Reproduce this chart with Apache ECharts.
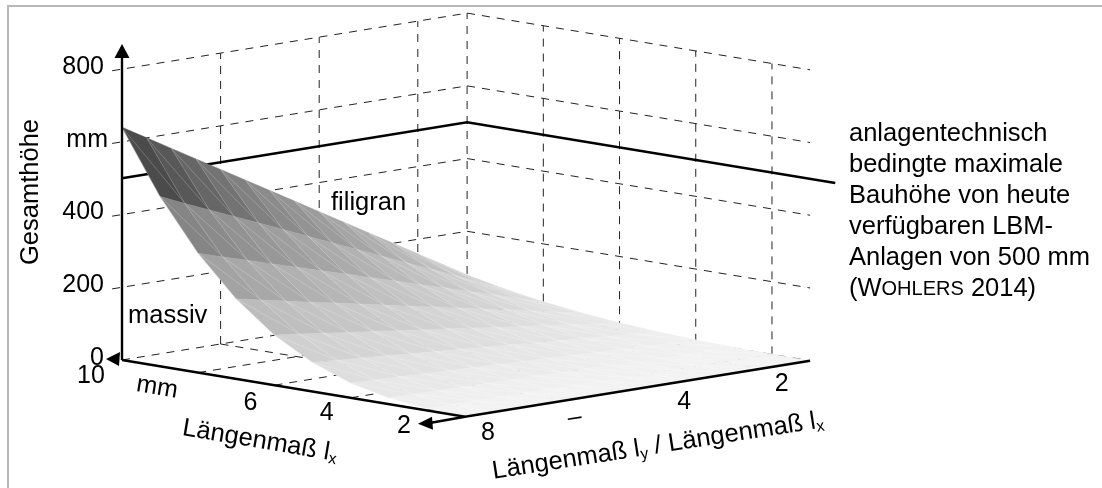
<!DOCTYPE html>
<html>
<head>
<meta charset="utf-8">
<style>html,body{margin:0;padding:0;background:#fff}#c{width:1102px;height:488px}</style>
<script src="https://cdn.jsdelivr.net/npm/echarts@6/dist/echarts.min.js"></script>
</head>
<body>
<div id="c"></div>
<script>
// ---- data ----
const lengthLx = [10, 9, 8, 7, 6, 5, 4, 3, 2, 1];
const ratioR = [1, 1.5, 2, 2.5, 3, 3.5, 4, 4.5, 5, 5.5, 6, 6.5, 7, 7.5, 8];
const heightLx10 = [80,120,160,200,240,280,320,360,400,440,480,520,560,600,640];
const heightLx9  = [58,87,117,146,175,204,233,262,292,321,350,379,408,437,467];
const heightLx8  = [41,61,82,102,123,143,164,184,205,225,246,266,287,307,328];
const heightLx7  = [27,41,55,69,82,96,110,123,137,151,165,178,192,206,220];
const heightLx6  = [17,26,35,43,52,60,69,78,86,95,104,112,121,130,138];
const heightLx5  = [10,15,20,25,30,35,40,45,50,55,60,65,70,75,80];
const heightLx4  = [5,8,10,13,15,18,20,23,26,28,31,33,36,38,41];
const heightLx3  = [2,3,4,5,6,8,9,10,11,12,13,14,15,16,17];
const heightLx2  = [1,1,1,2,2,2,3,3,3,4,4,4,4,5,5];
const heightLx1  = [0,0,0,0,0,0,0,0,0,0,0,0,1,1,1];
const heights = [heightLx10,heightLx9,heightLx8,heightLx7,heightLx6,heightLx5,heightLx4,heightLx3,heightLx2,heightLx1];

const zTicks = [800, 600, 400, 200, 0];
const zTickText = ['800', 'mm', '400', '200', '0'];
const lxTicks = [10, 8, 6, 4, 2];
const lxTickText = ['10', 'mm', '6', '4', '2'];
const rTicks = [8, 6, 4, 2];
const rTickText = ['8', '–', '4', '2'];
const buildLimit = 500;
const noteLines = ['anlagentechnisch', 'bedingte maximale', 'Bauhöhe von heute', 'verfügbaren LBM-', 'Anlagen von 500 mm'];

// ---- oblique view of the three data axes onto a plain pixel cartesian ----
function project(lx, r, z) {
  return [122 + (10 - lx) * 38.11 + (8 - r) * 49.3,
          360 + (10 - lx) * 6.3 - (8 - r) * 8.0 - z * 0.3636];
}
const FONT = '"Liberation Sans", Arial, sans-serif';
const FS = 25;
const FS_T = 25.5;
const grayStops = [[0,243],[41,231],[80,222],[138,208],[220,188],[328,163],[467,133],[640,75]];
function grayOf(h) {
  for (let k = 1; k < grayStops.length; k++) {
    if (h <= grayStops[k][0]) {
      const a = grayStops[k-1], b = grayStops[k];
      const g = Math.round(a[1] + (b[1]-a[1]) * (h-a[0])/(b[0]-a[0]));
      return 'rgb(' + g + ',' + g + ',' + g + ')';
    }
  }
  return 'rgb(75,75,75)';
}

const cells = [];
for (let i = 0; i < lengthLx.length - 1; i++)
  for (let j = 0; j < ratioR.length - 1; j++) cells.push([i, j]);

function vtx(i, j) { return project(lengthLx[i], ratioR[j], heights[i][j]); }

function renderCell(params, api) {
  const c = cells[params.dataIndex], i = c[0], j = c[1];
  const pts = [vtx(i,j), vtx(i,j+1), vtx(i+1,j+1), vtx(i+1,j)].map(p => api.coord(p));
  const col = grayOf(heights[i][j+1]);
  return {type:'polygon', shape:{points:pts}, style:{fill:col, stroke:col, lineWidth:0.5}};
}
function renderSeam(params, api) {
  const c = cells[params.dataIndex], i = c[0], j = c[1];
  const a = api.coord(vtx(i,j+1)), b = api.coord(vtx(i+1,j+1)), d = api.coord(vtx(i+1,j));
  const st = {stroke:'rgba(255,255,255,0.3)', lineWidth:0.7, fill:null};
  const children = [{type:'polyline', shape:{points:[a,d]}, style:st}];
  if (j > 0) children.push({type:'polyline', shape:{points:[a,b]}, style:st});
  return {type:'group', children};
}

// dashed box grid
const gridSegs = [];
zTicks.forEach(z => {
  if (z > 0) gridSegs.push([[10,8.2,z],[10,1,z]]);
  gridSegs.push([[10,1,z],[1,1,z]]);
  if (z === 0) gridSegs.push([[10,8,z],[10,1,z]]);
});
rTicks.slice(1).forEach(r => { gridSegs.push([[10,r,0],[10,r,800]]); gridSegs.push([[10,r,0],[1,r,0]]); });
gridSegs.push([[10,1,0],[10,1,800]]);
lxTicks.slice(1).forEach(lx => { gridSegs.push([[lx,1,0],[lx,1,800]]); gridSegs.push([[lx,8,0],[lx,1,0]]); });

function renderGrid(params, api) {
  const s = gridSegs[params.dataIndex];
  return {type:'line',
    shape:(function(){const a=api.coord(project.apply(null,s[0])),b=api.coord(project.apply(null,s[1]));return {x1:a[0],y1:a[1],x2:b[0],y2:b[1]};})(),
    style:{stroke:'#222', lineWidth:1, lineDash:[8,7]}};
}

// solid lines
const limitPath = [[10,8,buildLimit],[10,1,buildLimit],[0.34,1,buildLimit]];
const axisPaths = [
  [[10,8,0],[10,8,800]],
  [[10,8,0],[1,8,0],[1,1,0]]
];
function renderLimit(params, api) {
  return {type:'polyline', shape:{points:limitPath.map(p => api.coord(project.apply(null,p)))},
    style:{stroke:'#000', lineWidth:2.4, fill:null, lineJoin:'miter'}};
}
function renderAxes(params, api) {
  const zTop = api.coord(project(10,8,800)), o = api.coord(project(10,8,0)), f = api.coord(project(1,8,0));
  const tri = (base, off) => ({type:'polygon', shape:{points:off.map(q => [base[0]+q[0], base[1]+q[1]])}, style:{fill:'#000'}});
  const children = axisPaths.map(p => ({type:'polyline', shape:{points:p.map(v => api.coord(project.apply(null,v)))},
    style:{stroke:'#000', lineWidth:2.4, fill:null}}));
  children.push({type:'line', shape:{x1:zTop[0],y1:zTop[1],x2:zTop[0],y2:zTop[1]-14}, style:{stroke:'#000',lineWidth:2.4}});
  children.push({type:'line', shape:{x1:f[0],y1:f[1],x2:f[0]-34,y2:f[1]+6}, style:{stroke:'#000',lineWidth:2.4}});
  children.push(tri(zTop, [[0,-25],[-7.5,-11],[7.5,-11]]));
  children.push(tri(o, [[-16,-1],[-2,-8],[-3,6]]));
  children.push(tri(f, [[-47,7],[-33,0],[-32,13]]));
  return {type:'group', children};
}

// tick labels
const lxOff = [[-31,16],[-41,15],[-24,18],[-24,15],[-23,16]];
const rOff = [[23,16],[11,17],[22,17],[21,15]];
const labelItems = [];
zTicks.forEach((z,k) => labelItems.push({p:[10,8,z], t:zTickText[k], dx: z===600 ? -14 : -18, dy:-2, align:'right', rot:0}));
lxTicks.forEach((v,k) => labelItems.push({p:[v,8,0], t:lxTickText[k], dx:lxOff[k][0], dy:lxOff[k][1], align:'center', rot: lxTickText[k]==='mm' ? -0.16 : 0}));
rTicks.forEach((v,k) => labelItems.push({p:[1,v,0], t:rTickText[k], dx:rOff[k][0], dy:rOff[k][1], align:'center', rot: rTickText[k]==='–' ? 0.15 : 0}));
function renderLabel(params, api) {
  const it = labelItems[params.dataIndex], q = api.coord(project.apply(null,it.p));
  return {type:'text', x:q[0]+it.dx, y:q[1]+it.dy, rotation:it.rot,
    style:{text:it.t, align:it.align, verticalAlign:'middle', fontSize:FS, fontFamily:FONT, fill:'#000'}};
}

function customSeries(list, fn, z) {
  return {type:'custom', coordinateSystem:'cartesian2d', clip:false, silent:true, animation:false, z:z,
    renderItem:fn, data:list.map((_,k) => [k,k])};
}

function txt(x, y, text, extra) {
  return {type:'text', x:x, y:y, silent:true, z:50, rotation:(extra&&extra.rot)||0,
    style:Object.assign({text:text, fontSize:FS_T, fontFamily:FONT, fill:'#000', align:'left', verticalAlign:'middle'}, (extra&&extra.style)||{})};
}
const subRich = {m:{fontSize:FS_T, fontFamily:FONT, fill:'#000', lineHeight:28}, s:{fontSize:16, fontFamily:FONT, fill:'#000', lineHeight:16, verticalAlign:'bottom'}};

const graphics = [
  {type:'line', shape:{x1:8,y1:6,x2:1102,y2:6}, style:{stroke:'#b8b8b8',lineWidth:2}, silent:true},
  {type:'line', shape:{x1:8,y1:5,x2:8,y2:488}, style:{stroke:'#b8b8b8',lineWidth:2}, silent:true},
  txt(31, 192, 'Gesamthöhe', {rot:Math.PI/2, style:{align:'center'}}),
  txt(128, 316, 'massiv'),
  txt(331, 203, 'filigran'),
  txt(260, 441, '{m|Längenmaß l}{s|x}', {rot:-0.166, style:{align:'center', rich:subRich}}),
  txt(658, 446, '{m|Längenmaß l}{s|y}{m| / Längenmaß l}{s|x}', {rot:0.155, style:{align:'center', rich:subRich}})
];
noteLines.forEach((t,k) => graphics.push(txt(849, 134 + k*31, t)));
graphics.push(txt(849, 289, '{m|(W}{c|OHLERS}{m| 2014)}', {style:{rich:{m:{fontSize:FS_T,fontFamily:FONT,fill:'#000'}, c:{fontSize:20,fontFamily:FONT,fill:'#000'}}}}));

const chart = echarts.init(document.getElementById('c'), null, {renderer:'canvas'});
chart.setOption({
  animation:false,
  backgroundColor:'#fff',
  grid:{left:0,right:0,top:0,bottom:0,containLabel:false},
  xAxis:{type:'value',min:0,max:1102,show:false},
  yAxis:{type:'value',min:0,max:488,inverse:true,show:false},
  tooltip:{show:false},
  graphic:graphics,
  series:[
    customSeries(gridSegs, renderGrid, 1),
    customSeries([0], renderLimit, 2),
    customSeries(cells, renderCell, 3),
    customSeries(cells, renderSeam, 4),
    customSeries([0], renderAxes, 5),
    customSeries(labelItems, renderLabel, 6)
  ]
});
</script>
</body>
</html>
